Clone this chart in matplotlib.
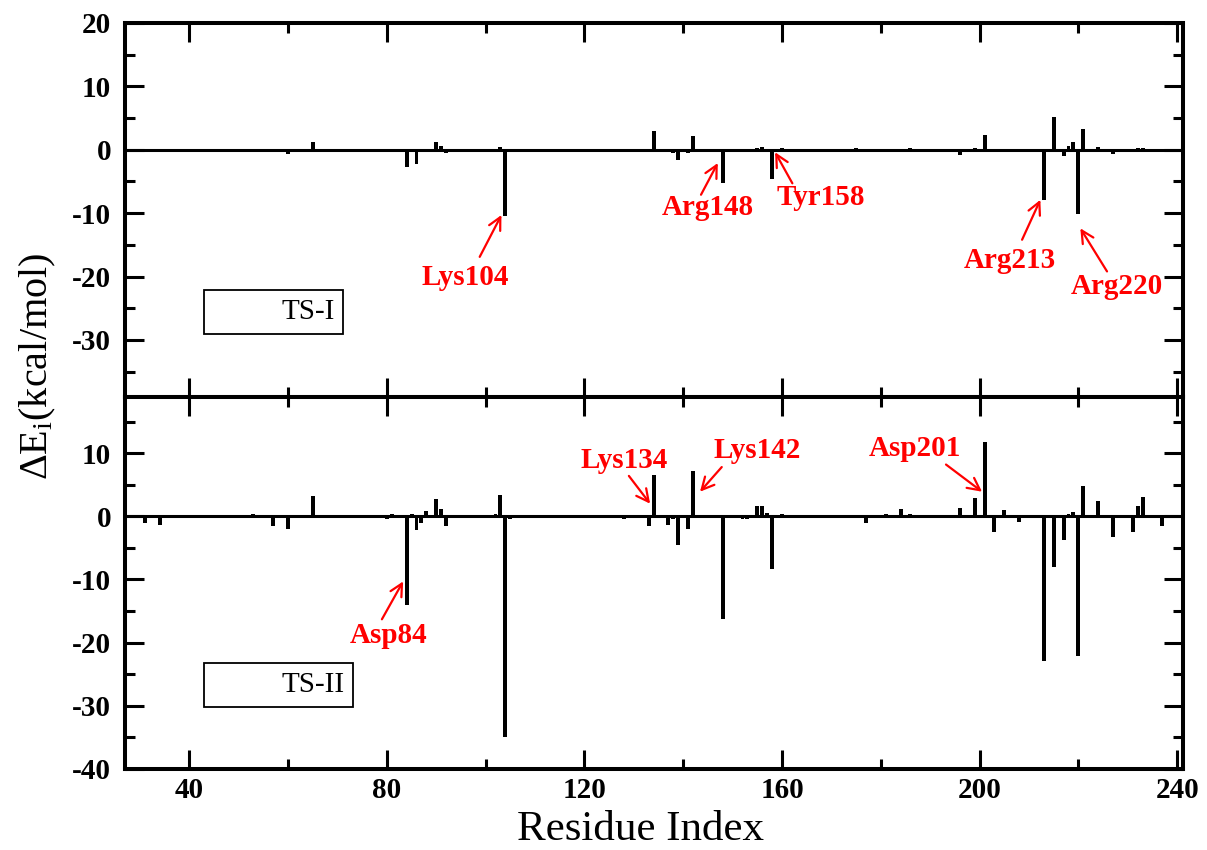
import matplotlib
matplotlib.use('Agg')
import matplotlib.pyplot as plt
from matplotlib.ticker import MultipleLocator
from matplotlib.lines import Line2D

plt.rcParams['font.family'] = 'Liberation Serif'
plt.rcParams['mathtext.fontset'] = 'custom'
plt.rcParams['mathtext.rm'] = 'Liberation Serif'
plt.rcParams['mathtext.it'] = 'Liberation Serif:italic'
plt.rcParams['axes.unicode_minus'] = False

# per-residue interaction energies (kcal/mol)
ts1_res = [31, 54, 57, 60, 65, 84, 86, 90, 91, 92, 103, 104, 105, 112, 128,
           133, 134, 137, 138, 139, 141, 142, 148, 153, 155, 156, 158, 160,
           175, 186, 196, 199, 200, 201, 203, 213, 215, 217, 218, 219, 220,
           221, 224, 227, 231, 232, 233]
ts1_val = [-0.2, -0.3, -0.4, -0.6, 1.2, -2.8, -2.2, 1.2, 0.6, -0.5, 0.4, -10.4,
           -0.3, -0.2, -0.2, -0.4, 3.0, -0.3, -0.5, -1.6, -0.5, 2.2, -5.2, -0.3,
           0.3, 0.4, -4.6, 0.3, 0.2, 0.2, -0.8, 0.3, -0.3, 2.3, -0.3, -8.0, 5.1,
           -1.0, 0.6, 1.2, -10.2, 3.3, 0.4, -0.6, -0.4, 0.3, 0.3]

ts2_res = [31, 34, 45, 53, 54, 57, 60, 65, 68, 80, 81, 84, 85, 86, 87, 88, 90,
           91, 92, 102, 103, 104, 105, 112, 128, 133, 134, 137, 138, 139, 141,
           142, 148, 149, 152, 153, 154, 155, 156, 157, 158, 160, 174, 177, 181,
           184, 186, 196, 199, 200, 201, 203, 205, 208, 213, 215, 217, 218, 219,
           220, 221, 224, 226, 227, 231, 232, 233, 237]
ts2_val = [-1.0, -1.3, -0.3, 0.3, -0.3, -1.5, -2.0, 3.2, -0.2, -0.4, 0.3, -14.0,
           0.3, -2.2, -1.1, 0.8, 2.7, 1.2, -1.6, 0.3, 3.4, -35.0, -0.4, -0.3,
           -0.5, -1.5, 6.6, -1.3, -0.4, -4.6, -2.0, 7.2, -16.3, -0.2, -0.4, -0.5,
           -0.3, 1.6, 1.6, 0.5, -8.4, 0.4, -0.3, -1.0, 0.3, 1.2, 0.3, 1.3, 2.9,
           -0.3, 11.7, -2.5, 1.0, -0.9, -22.9, -8.1, -3.8, 0.3, 0.7, -22.1, 4.8,
           2.5, -0.3, -3.3, -2.5, 1.7, 3.1, -1.5]

# labels: (text, text position, arrow tail, arrow tip)
ts1_notes = [
    ('Lys104', (95.8, -20.2), (98.8, -16.9), (103.2, -10.3)),
    ('Arg148', (144.9, -9.1), (143.6, -7.1), (147.0, -2.1)),
    ('Tyr158', (167.9, -7.6), (162.1, -5.3), (158.6, -0.4)),
    ('Arg213', (206.2, -17.4), (208.6, -14.2), (212.3, -7.9)),
    ('Arg220', (227.8, -21.6), (225.8, -19.2), (220.4, -12.4)),
]
ts2_notes = [
    ('Asp84', (80.3, -18.9), (79.0, -16.3), (83.3, -10.3)),
    ('Lys134', (128.1, 8.9), (129.0, 6.4), (133.3, 2.0)),
    ('Lys142', (155.0, 10.5), (147.8, 7.8), (143.4, 3.9)),
    ('Asp201', (187.0, 10.8), (193.2, 8.2), (200.5, 3.9)),
]

fig = plt.figure(figsize=(12.07, 8.5), dpi=100)
ax1 = fig.add_axes([0.1036, 0.533, 0.8766, 0.44])
ax2 = fig.add_axes([0.1036, 0.0953, 0.8766, 0.4377], sharex=ax1)


def draw_panel(ax, res, val, notes, name, ylim):
    ax.bar(res, val, width=0.8, color='black', linewidth=0)
    ax.axhline(0, color='black', lw=2.2)
    ax.set_xlim(27, 241.2)
    ax.set_ylim(*ylim)
    ax.xaxis.set_major_locator(MultipleLocator(40))
    ax.xaxis.set_minor_locator(MultipleLocator(20))
    ax.yaxis.set_major_locator(MultipleLocator(10))
    ax.yaxis.set_minor_locator(MultipleLocator(5))
    ax.tick_params(which='both', direction='in', top=True, right=True,
                   width=2.2)
    ax.tick_params(which='major', length=14)
    ax.tick_params(which='minor', length=7)
    ax.tick_params(axis='y', pad=10)
    ax.tick_params(axis='x', pad=6)
    for lab in ax.get_xticklabels() + ax.get_yticklabels():
        lab.set_fontweight('bold')
        lab.set_fontsize(21)
    for sp in ax.spines.values():
        sp.set_linewidth(2.9)
    for text, txy, tail, tip in notes:
        ax.text(txy[0], txy[1], text, color='red', fontsize=21,
                fontweight='bold', ha='center', va='center')
        ax.annotate('', xy=tip, xytext=tail,
                    arrowprops=dict(arrowstyle='->,head_length=0.55,head_width=0.28',
                                    color='red', lw=1.6, mutation_scale=16,
                                    shrinkA=0, shrinkB=0))
    h = Line2D([], [], color='none')
    leg = ax.legend([h], [name], loc='upper left', bbox_to_anchor=(0.0747, 0.286),
                    borderaxespad=0, fancybox=False, framealpha=1,
                    edgecolor='black', fontsize=21, handlelength=1.75,
                    handletextpad=0.6, borderpad=0.3)
    leg.get_frame().set_linewidth(1.3)


draw_panel(ax1, ts1_res, ts1_val, ts1_notes, 'TS-I', (-39, 20))
draw_panel(ax2, ts2_res, ts2_val, ts2_notes, 'TS-II', (-40, 18.9))
ax1.tick_params(labelbottom=False)

fig.text(0.531, 0.012, 'Residue Index', fontsize=31, ha='center', va='baseline')
fig.text(0.031, 0.569, r'ΔE$_\mathrm{i}$(kcal/mol)', fontsize=29,
         rotation=90, ha='center', va='center')

fig.savefig('out.png', dpi=100)
